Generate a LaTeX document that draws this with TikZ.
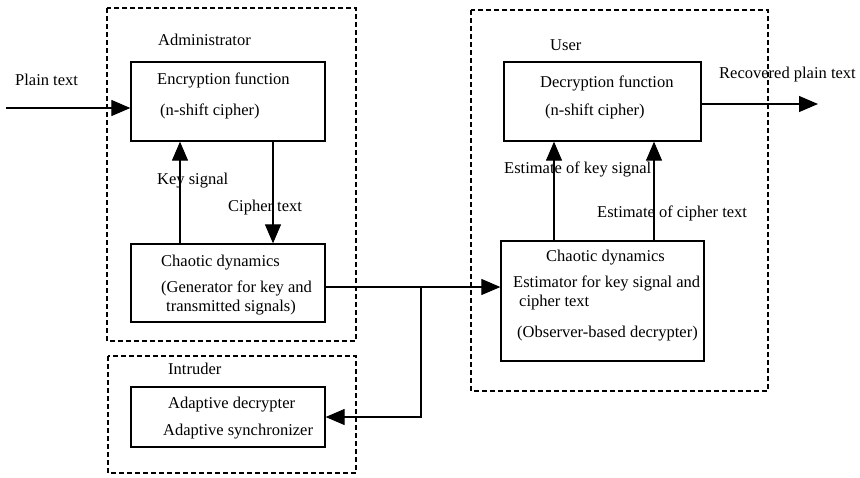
\documentclass[tikz,border=0pt]{standalone}
\usepackage{fontspec}
\setmainfont{Liberation Serif}
\usepackage{tikz}
\usetikzlibrary{arrows.meta, positioning, calc}
\tikzset{
  box/.style={rectangle, draw=black, line width=1.3pt, inner sep=0pt},
  group/.style={draw=black, line width=1.2pt, dash pattern=on 5pt off 3pt},
  txt/.style={anchor=west, inner sep=0pt},
  arrow/.style={-{Triangle[length=19pt, width=16pt]}, line width=1.1pt, color=black},
  line/.style={line width=1.1pt, color=black}
}

\begin{document}
\begin{tikzpicture}[x=1pt, y=-1pt, every node/.style={font=\fontsize{16.5}{19}\selectfont}]
  \useasboundingbox (0,0) rectangle (860,477);

  % Administrator (dashed frame)
  \draw[group] (107,8) rectangle (356,341);
  \node[txt] (admin) at (158,40) {Administrator};

  \node[box, minimum width=194pt, minimum height=79pt] (enc) at (228,101.5) {};
  \node[txt] (enc1) at (157,80) {Encryption function};
  \node[txt] (enc2) at (160,111) {(n-shift cipher)};

  \node[box, minimum width=194pt, minimum height=78pt] (gen) at (228,283) {};
  \node[txt] (gen1) at (161,263) {Chaotic dynamics};
  \node[txt] (gen2) at (161,288) {(Generator for key and};
  \node[txt] (gen3) at (166,308) {transmitted signals)};

  % Plain text input
  \coordinate (src) at (6,108);
  \draw[arrow] (src) -- ([yshift=-6.5pt]enc.west);
  \node[txt] (plain) at (15,80) {Plain text};

  % Key signal and cipher text
  \draw[arrow] ([xshift=-48pt]gen.north) -- ([xshift=-48pt]enc.south);
  \draw[arrow] ([xshift=45pt]enc.south) -- ([xshift=45pt]gen.north);
  \node[txt] (key) at (157,181) {Key signal};
  \node[txt] (ciph) at (228,208) {Cipher text};

  % Intruder (dashed frame)
  \draw[group] (108,356) rectangle (356,473);
  \node[txt] (intr) at (168,369) {Intruder};
  \node[box, minimum width=194pt, minimum height=60pt] (adapt) at (228,417) {};
  \node[txt] (adapt1) at (168,405) {Adaptive decrypter};
  \node[txt] (adapt2) at (163,432) {Adaptive synchronizer};

  % User (dashed frame)
  \draw[group] (471,10) rectangle (768,391);
  \node[txt] (user) at (550,45) {User};

  \node[box, minimum width=197pt, minimum height=79pt] (dec) at (602.5,101.5) {};
  \node[txt] (dec1) at (540,83) {Decryption function};
  \node[txt] (dec2) at (545,111) {(n-shift cipher)};

  \node[box, minimum width=203pt, minimum height=120pt] (est) at (602.5,301) {};
  \node[txt] (est1) at (546,258) {Chaotic dynamics};
  \node[txt] (est2) at (513,283) {Estimator for key signal and};
  \node[txt] (est3) at (519,303) {cipher text};
  \node[txt] (est4) at (517,334) {(Observer-based decrypter)};

  % Estimates back to decryption
  \draw[arrow] ([xshift=-48.5pt]est.north) -- ([xshift=-48.5pt]dec.south);
  \draw[arrow] ([xshift=51.5pt]est.north) -- ([xshift=51.5pt]dec.south);
  \node[txt] (estkey) at (504,169) {Estimate of key signal};
  \node[txt] (estciph) at (597,213) {Estimate of cipher text};

  % Recovered output
  \coordinate (out) at (818,104);
  \draw[arrow] ([yshift=-2.5pt]dec.east) -- (out);
  \node[txt] (rec) at (719,75) {Recovered plain text};

  % Transmitted signal, tapped by the intruder
  \coordinate (jn) at (421,287);
  \draw[arrow] ([yshift=-4pt]gen.east) -- ([yshift=14pt]est.west);
  \draw[arrow] (jn) |- (adapt.east);
\end{tikzpicture}
\end{document}
